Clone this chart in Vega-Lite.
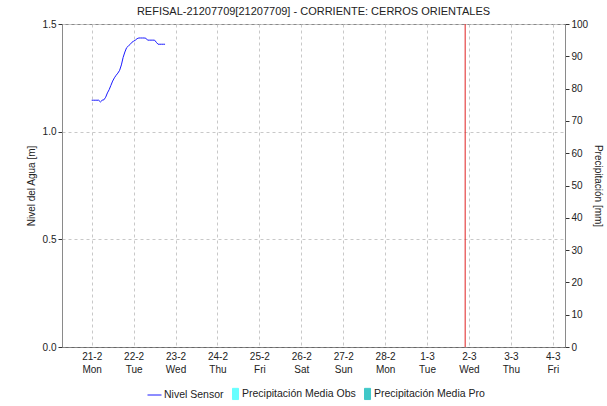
{
  "$schema": "https://vega.github.io/schema/vega-lite/v6.json",
  "width": 503,
  "height": 323,
  "autosize": {"type": "none"},
  "padding": {"left": 62, "top": 24, "right": 42, "bottom": 59},
  "background": "white",
  "title": {"text": "REFISAL-21207709[21207709] - CORRIENTE: CERROS ORIENTALES", "font": "Liberation Sans", "fontSize": 11, "fontWeight": "normal", "color": "#222222", "offset": 2},
  "config": {
    "font": "Liberation Sans",
    "view": {"stroke": "#8a8a8a"},
    "axis": {"labelFont": "Liberation Sans", "titleFont": "Liberation Sans", "labelColor": "#222222", "titleColor": "#222222", "labelFontSize": 10, "titleFontSize": 10, "titleFontWeight": "normal"}
  },
  "datasets": {
    "nivel": [
      {"fecha": "2022-02-21T00:00:00", "nivel": 1.146, "serie": "Nivel Sensor"},
      {"fecha": "2022-02-21T01:00:00", "nivel": 1.146, "serie": "Nivel Sensor"},
      {"fecha": "2022-02-21T02:00:00", "nivel": 1.146, "serie": "Nivel Sensor"},
      {"fecha": "2022-02-21T03:00:00", "nivel": 1.146, "serie": "Nivel Sensor"},
      {"fecha": "2022-02-21T04:00:00", "nivel": 1.146, "serie": "Nivel Sensor"},
      {"fecha": "2022-02-21T05:00:00", "nivel": 1.138, "serie": "Nivel Sensor"},
      {"fecha": "2022-02-21T06:00:00", "nivel": 1.146, "serie": "Nivel Sensor"},
      {"fecha": "2022-02-21T07:00:00", "nivel": 1.148, "serie": "Nivel Sensor"},
      {"fecha": "2022-02-21T08:00:00", "nivel": 1.16, "serie": "Nivel Sensor"},
      {"fecha": "2022-02-21T09:00:00", "nivel": 1.18, "serie": "Nivel Sensor"},
      {"fecha": "2022-02-21T10:00:00", "nivel": 1.195, "serie": "Nivel Sensor"},
      {"fecha": "2022-02-21T11:00:00", "nivel": 1.215, "serie": "Nivel Sensor"},
      {"fecha": "2022-02-21T12:00:00", "nivel": 1.235, "serie": "Nivel Sensor"},
      {"fecha": "2022-02-21T13:00:00", "nivel": 1.25, "serie": "Nivel Sensor"},
      {"fecha": "2022-02-21T14:00:00", "nivel": 1.262, "serie": "Nivel Sensor"},
      {"fecha": "2022-02-21T15:00:00", "nivel": 1.272, "serie": "Nivel Sensor"},
      {"fecha": "2022-02-21T16:00:00", "nivel": 1.285, "serie": "Nivel Sensor"},
      {"fecha": "2022-02-21T17:00:00", "nivel": 1.31, "serie": "Nivel Sensor"},
      {"fecha": "2022-02-21T18:00:00", "nivel": 1.345, "serie": "Nivel Sensor"},
      {"fecha": "2022-02-21T19:00:00", "nivel": 1.37, "serie": "Nivel Sensor"},
      {"fecha": "2022-02-21T20:00:00", "nivel": 1.39, "serie": "Nivel Sensor"},
      {"fecha": "2022-02-21T21:00:00", "nivel": 1.398, "serie": "Nivel Sensor"},
      {"fecha": "2022-02-21T22:00:00", "nivel": 1.405, "serie": "Nivel Sensor"},
      {"fecha": "2022-02-21T23:00:00", "nivel": 1.415, "serie": "Nivel Sensor"},
      {"fecha": "2022-02-22T00:00:00", "nivel": 1.42, "serie": "Nivel Sensor"},
      {"fecha": "2022-02-22T01:00:00", "nivel": 1.425, "serie": "Nivel Sensor"},
      {"fecha": "2022-02-22T02:00:00", "nivel": 1.432, "serie": "Nivel Sensor"},
      {"fecha": "2022-02-22T03:00:00", "nivel": 1.435, "serie": "Nivel Sensor"},
      {"fecha": "2022-02-22T04:00:00", "nivel": 1.435, "serie": "Nivel Sensor"},
      {"fecha": "2022-02-22T05:00:00", "nivel": 1.435, "serie": "Nivel Sensor"},
      {"fecha": "2022-02-22T06:00:00", "nivel": 1.435, "serie": "Nivel Sensor"},
      {"fecha": "2022-02-22T07:00:00", "nivel": 1.434, "serie": "Nivel Sensor"},
      {"fecha": "2022-02-22T08:00:00", "nivel": 1.425, "serie": "Nivel Sensor"},
      {"fecha": "2022-02-22T09:00:00", "nivel": 1.425, "serie": "Nivel Sensor"},
      {"fecha": "2022-02-22T10:00:00", "nivel": 1.425, "serie": "Nivel Sensor"},
      {"fecha": "2022-02-22T11:00:00", "nivel": 1.425, "serie": "Nivel Sensor"},
      {"fecha": "2022-02-22T12:00:00", "nivel": 1.425, "serie": "Nivel Sensor"},
      {"fecha": "2022-02-22T13:00:00", "nivel": 1.415, "serie": "Nivel Sensor"},
      {"fecha": "2022-02-22T14:00:00", "nivel": 1.406, "serie": "Nivel Sensor"},
      {"fecha": "2022-02-22T15:00:00", "nivel": 1.406, "serie": "Nivel Sensor"},
      {"fecha": "2022-02-22T16:00:00", "nivel": 1.406, "serie": "Nivel Sensor"},
      {"fecha": "2022-02-22T17:00:00", "nivel": 1.406, "serie": "Nivel Sensor"},
      {"fecha": "2022-02-22T18:00:00", "nivel": 1.406, "serie": "Nivel Sensor"}
    ],
    "precip": [
      {"fecha": "2022-02-21T00:00:00", "precip": 0},
      {"fecha": "2022-02-22T00:00:00", "precip": 0}
    ],
    "ahora": [
      {"fecha": "2022-03-01T21:50:00"}
    ]
  },
  "encoding": {
    "x": {
      "field": "fecha",
      "type": "temporal",
      "scale": {"domain": [{"year": 2022, "month": "feb", "date": 20, "hours": 7}, {"year": 2022, "month": "mar", "date": 4, "hours": 7}], "nice": false, "padding": 0},
      "axis": {
        "title": null,
        "tickCount": {"interval": "day", "step": 1},
        "labelExpr": "[timeFormat(datum.value, '%-d-%-m'), timeFormat(datum.value, '%a')]",
        "labelFontSize": 10,
        "labelLineHeight": 13,
        "labelPadding": 4,
        "ticks": false,
        "grid": true,
        "gridDash": [3, 3],
        "gridColor": "#c8c8c8",
        "domainColor": "#444444",
        "domainDash": [1, 1]
      }
    }
  },
  "layer": [
    {
      "data": {"name": "nivel"},
      "mark": {"type": "line", "strokeWidth": 1, "interpolate": "linear"},
      "encoding": {
        "y": {
          "field": "nivel",
          "type": "quantitative",
          "scale": {"domain": [0, 1.5], "nice": false},
          "axis": {"values": [0, 0.5, 1, 1.5], "format": ".1f", "title": "Nivel del Agua [m]", "grid": true, "gridDash": [3, 3], "gridColor": "#c8c8c8", "tickSize": 4, "tickColor": "#333333", "domainColor": "#8a8a8a", "labelPadding": 2, "titlePadding": 6}
        },
        "color": {
          "field": "serie",
          "type": "nominal",
          "scale": {"domain": ["Nivel Sensor", "Precipitación Media Obs", "Precipitación Media Pro"], "range": ["#1a1aff", "#66ffff", "#40c8c8"]},
          "legend": {
            "orient": "none",
            "legendX": 85,
            "legendY": 362,
            "direction": "horizontal",
            "title": null,
            "labelFont": "Liberation Sans",
            "labelFontSize": 10.5,
            "labelColor": "#222222",
            "columnPadding": 1,
            "labelOffset": 2,
            "symbolStrokeWidth": 1,
            "symbolSize": 196,
            "encode": {
              "symbols": {
                "update": {
                  "shape": {"signal": "datum.label == 'Nivel Sensor' ? 'stroke' : 'M0,-0.8H0.86V0.8H0Z'"},
                  "fill": {"signal": "datum.label == 'Nivel Sensor' ? 'transparent' : scale('color', datum.value)"},
                  "size": {"value": 196}
                }
              }
            }
          }
        }
      }
    },
    {
      "data": {"name": "precip"},
      "mark": {"type": "bar", "color": "#66ffff"},
      "encoding": {
        "y": {
          "field": "precip",
          "type": "quantitative",
          "scale": {"domain": [0, 100], "nice": false},
          "axis": {"values": [0, 10, 20, 30, 40, 50, 60, 70, 80, 90, 100], "title": "Precipitación [mm]", "orient": "right", "grid": false, "tickSize": 4, "tickColor": "#333333", "domainColor": "#8a8a8a", "labelPadding": 2, "titlePadding": 5}
        }
      }
    },
    {
      "data": {"name": "ahora"},
      "mark": {"type": "rule", "color": "#e02020", "strokeWidth": 1},
      "encoding": {}
    }
  ],
  "resolve": {"scale": {"y": "independent"}}
}
